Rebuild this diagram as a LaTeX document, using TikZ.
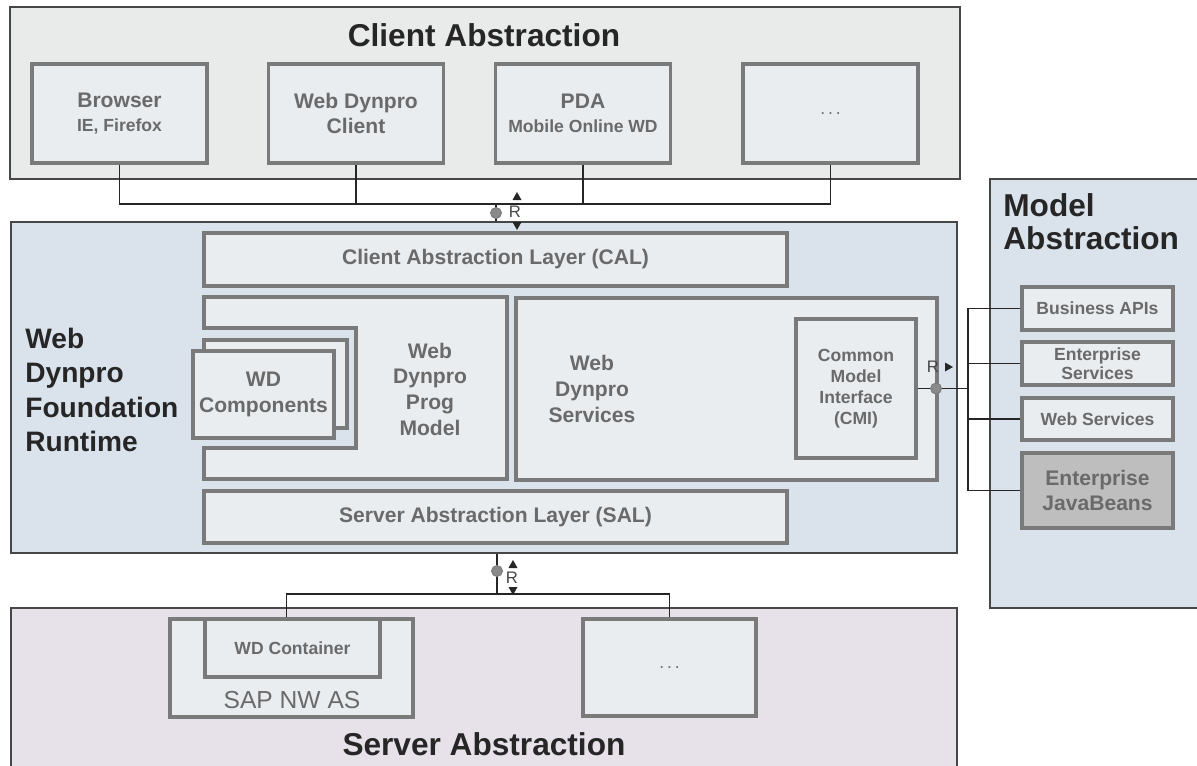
\documentclass[tikz,border=0pt]{standalone}
\usepackage{fontspec}
\setmainfont{Liberation Sans}
\usetikzlibrary{positioning}
\definecolor{tinta}{HTML}{262626}
\definecolor{areagris}{HTML}{E9EBEA}
\definecolor{areaazul}{HTML}{DAE2EC}
\definecolor{arealila}{HTML}{E7E2EA}
\definecolor{cajafondo}{HTML}{EAEDEF}
\definecolor{ejbfondo}{HTML}{BEBEBE}
\definecolor{bordecaja}{HTML}{7A7A7A}
\definecolor{bordearea}{HTML}{474747}
\definecolor{textocaja}{HTML}{6A6A6A}
\definecolor{grisbola}{HTML}{8A8A8A}
\tikzset{
  area/.style={rectangle, draw=bordearea, line width=0.9pt, inner sep=0pt},
  caja/.style={rectangle, draw=bordecaja, fill=cajafondo, line width=1.9pt, inner sep=0pt,
               text=textocaja, font=\bfseries\fontsize{12}{14.4}\selectfont, align=center},
  cajam/.style={caja, font=\bfseries\fontsize{10}{10.8}\selectfont, minimum width=3.02cm},
  titulo/.style={font=\bfseries\fontsize{18}{18.7}\selectfont, text=tinta, inner sep=0pt},
  texto/.style={font=\bfseries\fontsize{12}{14.6}\selectfont, text=textocaja, align=center, inner sep=0pt},
  linea/.style={draw=tinta, line width=0.75pt},
  bola/.style={circle, fill=grisbola, draw=bordecaja, line width=0.5pt, minimum size=0.22cm, inner sep=0pt},
  rtxt/.style={font=\fontsize{9.5}{9.5}\selectfont, text=tinta!85, inner sep=0pt}
}

\begin{document}
\begin{tikzpicture}[x=0.02cm, y=-0.02cm]
  \useasboundingbox (0,0) rectangle (1197,765);

  % client side
  \node (clientabs) [area, fill=areagris, minimum width=19cm, minimum height=3.44cm] at (485,93) {};
  \node (clienttit) [titulo] at (484,35) {Client Abstraction};
  \node (browser) [caja, minimum width=3.5cm, minimum height=1.98cm] at (119.5,113.5)
        {Browser\\[-1pt]{\fontsize{10}{12}\selectfont IE, Firefox}};
  \node (wdclient) [caja, minimum width=3.5cm, minimum height=1.98cm] at (356,113.5) {Web Dynpro\\Client};
  \node (pda) [caja, minimum width=3.5cm, minimum height=1.98cm] at (583,113.5)
        {PDA\\[-1pt]{\fontsize{10}{12}\selectfont Mobile Online WD}};
  \node (cdots) [caja, font=\fontsize{10}{12}\selectfont, minimum width=3.5cm, minimum height=1.98cm] at (830.5,113.5) {.\,.\,.};

  % runtime
  \node (wdfr) [area, fill=areaazul, minimum width=18.92cm, minimum height=6.62cm] at (484,387.5) {};
  \node (wdfrtit) [titulo, font=\bfseries\fontsize{16}{19.5}\selectfont, align=left, anchor=west] at (25,390)
        {Web\\Dynpro\\Foundation\\Runtime};
  \node (cal) [caja, minimum width=11.66cm, minimum height=1.06cm] at (495.5,259.5) {Client Abstraction Layer (CAL)};
  \node (prog) [caja, minimum width=6.06cm, minimum height=3.64cm] at (355.5,388) {};
  \fill[areaazul] (200,328) rectangle (356,448);
  \draw[draw=bordecaja, line width=1.9pt] (202.3,328) -- (356,328) -- (356,448) -- (202.3,448);
  \node (compback) [caja, minimum width=2.86cm, minimum height=1.76cm] at (275.5,384) {};
  \node (comp) [caja, minimum width=2.82cm, minimum height=1.74cm] at (263.5,394.5) {WD\\Components};
  \node (progtxt) [texto] at (430,389) {Web\\Dynpro\\Prog\\Model};
  \node (serv) [caja, minimum width=8.42cm, minimum height=3.64cm] at (726.5,389) {};
  \node (servtxt) [texto] at (592,389) {Web\\Dynpro\\Services};
  \node (cmi) [caja, font=\bfseries\fontsize{10}{11.9}\selectfont, minimum width=2.4cm, minimum height=2.78cm] at (856,388.5)
        {Common\\Model\\Interface\\(CMI)};
  \node (sal) [caja, minimum width=11.66cm, minimum height=1.04cm] at (495.5,517) {Server Abstraction Layer (SAL)};

  % model side
  \node (modelabs) [area, fill=areaazul, minimum width=4.6cm, minimum height=8.58cm] at (1105,393.5) {};
  \node (modeltit) [titulo, align=left, anchor=west] at (1003,222) {Model\\Abstraction};
  \node (bapi) [cajam, minimum height=0.86cm] at (1097.5,308.5) {Business APIs};
  \node (eserv) [cajam, minimum height=0.86cm] at (1097.5,363.5) {Enterprise\\Services};
  \node (wserv) [cajam, minimum height=0.84cm] at (1097.5,419) {Web Services};
  \node (ejb) [cajam, fill=ejbfondo, font=\bfseries\fontsize{12}{14.2}\selectfont, minimum height=1.5cm] at (1097.5,490.5)
        {Enterprise\\JavaBeans};

  % server side
  \node (serverabs) [area, fill=arealila, minimum width=18.92cm, minimum height=3.6cm] at (484,698) {};
  \node (servertit) [titulo] at (484,744) {Server Abstraction};
  \node (sapnw) [caja, minimum width=4.86cm, minimum height=1.96cm] at (291.5,668) {};
  \node (sapnwtxt) [texto, font=\fontsize{14}{16}\selectfont] at (292,700) {SAP NW AS};
  \node (wdcont) [caja, font=\bfseries\fontsize{10}{12}\selectfont, minimum width=3.5cm, minimum height=1.16cm] at (292.5,648) {WD Container};
  \node (sdots) [caja, font=\fontsize{10}{12}\selectfont, minimum width=3.46cm, minimum height=1.94cm] at (669.5,667.5) {.\,.\,.};

  % client channel
  \coordinate (cbus) at (496,204);
  \draw[linea] (browser.south) |- (cbus) -| (cdots.south);
  \draw[linea] (wdclient.south) -- (wdclient.south |- cbus);
  \draw[linea] (pda.south) -- (pda.south |- cbus);
  \draw[linea] (cbus) -- (cbus |- wdfr.north);
  \node (ctop) [bola] at (496,213) {};
  \node (rtop) [rtxt] at (515,212) {R};
  \fill[tinta] (517,192) -- (521.5,200) -- (512.5,200) -- cycle;
  \fill[tinta] (512.5,222) -- (521.5,222) -- (517,230) -- cycle;

  % model channel
  \coordinate (mbus) at (968,388.5);
  \draw[linea] (cmi.east) -- (mbus);
  \draw[linea] (bapi.west) -| (mbus) |- (ejb.west);
  \draw[linea] (eserv.west) -- (eserv.west -| mbus);
  \draw[linea] (wserv.west) -- (wserv.west -| mbus);
  \node (cright) [bola] at (936,388.5) {};
  \node (rright) [rtxt] at (933,367) {R};
  \fill[tinta] (945,362.5) -- (953,367) -- (945,371.5) -- cycle;

  % server channel
  \coordinate (sbus) at (497,594);
  \draw[linea] (wdfr.south -| sbus) -- (sbus);
  \draw[linea] ([xshift=-0.12cm]wdcont.north) |- (sbus) -| (sdots.north);
  \node (cbot) [bola] at (497,571) {};
  \node (rbot) [rtxt] at (512,578) {R};
  \fill[tinta] (513,560) -- (517.5,568) -- (508.5,568) -- cycle;
  \fill[tinta] (508.5,587) -- (517.5,587) -- (513,595) -- cycle;
\end{tikzpicture}
\end{document}
